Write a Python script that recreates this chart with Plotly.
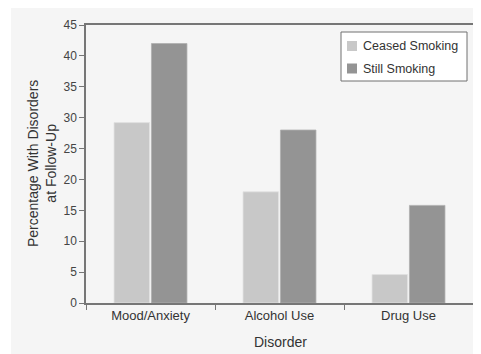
import plotly.graph_objects as go

categories = ["Mood/Anxiety", "Alcohol Use", "Drug Use"]
ceased = [29.2, 18.0, 4.6]
still = [42.0, 28.0, 15.8]
y_ticks = [0, 5, 10, 15, 20, 25, 30, 35, 40, 45]
series_names = ["Ceased Smoking", "Still Smoking"]
series_colors = ["#c8c8c8", "#949494"]

FONT = "Liberation Sans, Arial, sans-serif"
AXC = "#767676"
TXT = "#333333"

# the page body adds an 8px offset; margins compensate for it
L, R, T, B = 78, 16, 17, 59
W, H = 481, 354
PW, PH = W - L - R, H - T - B


def px(x):
    return (x - 8 - L) / PW


def py(y):
    return (H - B - (y - 8)) / PH


fig = go.Figure()
fig.add_trace(go.Bar(x=categories, y=ceased, name=series_names[0],
                     marker=dict(color=series_colors[0], line=dict(color="#e2e2e2", width=0.8))))
fig.add_trace(go.Bar(x=categories, y=still, name=series_names[1],
                     marker=dict(color=series_colors[1], line=dict(color="#b0b0b0", width=0.8))))

shapes = [dict(type="rect", xref="paper", yref="paper", layer="below",
               x0=px(11), x1=1.3, y0=-0.5, y1=1.3,
               fillcolor="#f5f5f5", line=dict(width=0))]
# legend box
shapes.append(dict(type="rect", xref="paper", yref="paper",
                   x0=px(341), x1=px(467), y0=py(81), y1=py(32),
                   fillcolor="white", line=dict(color="#707070", width=1)))
annotations = []
for i, (nm, col) in enumerate(zip(series_names, series_colors)):
    cy = 46 + i * 22.5
    shapes.append(dict(type="rect", xref="paper", yref="paper",
                       x0=px(347), x1=px(357), y0=py(cy + 5), y1=py(cy - 5),
                       fillcolor=col, line=dict(width=0)))
    annotations.append(dict(text=nm, xref="paper", yref="paper", x=px(361), y=py(cy),
                            xanchor="left", yanchor="middle", showarrow=False,
                            font=dict(family=FONT, size=12.5, color=TXT)))

annotations.append(dict(text="Percentage With Disorders<br>at Follow-Up",
                        xref="paper", yref="paper", x=px(42), y=py(164),
                        textangle=-90, showarrow=False, xanchor="center", yanchor="middle",
                        font=dict(family=FONT, size=14, color=TXT)))
annotations.append(dict(text="Disorder", xref="paper", yref="paper", x=px(280), y=py(342),
                        showarrow=False, xanchor="center", yanchor="middle",
                        font=dict(family=FONT, size=14, color=TXT)))

fig.update_layout(
    width=W, height=H,
    margin=dict(l=L, r=R, t=T, b=B, autoexpand=False),
    paper_bgcolor="white", plot_bgcolor="white",
    barmode="group", bargap=0.42, bargroupgap=0.05,
    font=dict(family=FONT, size=12, color=TXT),
    showlegend=False,
    xaxis=dict(showline=True, linecolor=AXC, linewidth=1.5, mirror=True,
               ticks="outside", tickson="boundaries", ticklen=5, tickcolor=AXC,
               tickwidth=1, showgrid=False, automargin=False,
               tickfont=dict(family=FONT, size=13, color=TXT)),
    yaxis=dict(range=[0, 45], tickvals=y_ticks, showline=True, linecolor=AXC,
               linewidth=1.5, mirror=True, ticks="outside", ticklen=5,
               tickcolor=AXC, tickwidth=1, showgrid=False, zeroline=False,
               automargin=False,
               tickfont=dict(family=FONT, size=12, color="#444444")),
    shapes=shapes,
    annotations=annotations,
)

fig.write_html("out.html")
